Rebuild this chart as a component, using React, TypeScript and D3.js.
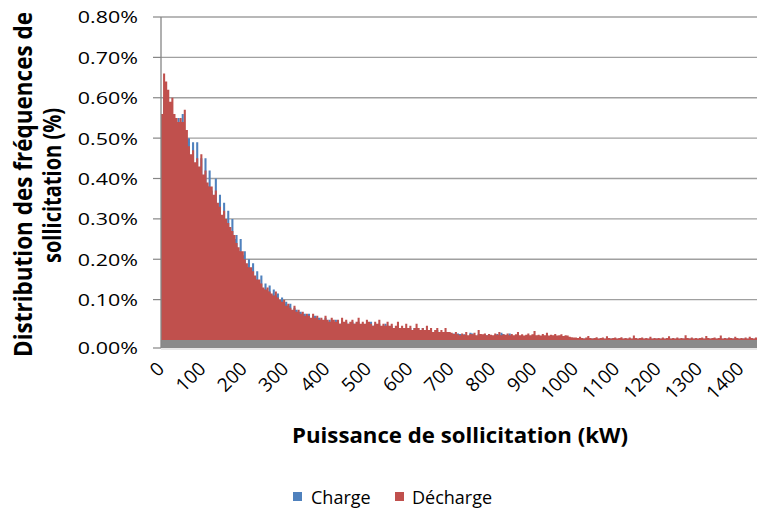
import React from 'react';
import * as d3 from 'd3';

// Bins of 5 kW, starting at 0 kW (values in %)
const BIN_KW = 5;

const decharge = [
  0.56, 0.66, 0.64, 0.62, 0.59, 0.60, 0.56, 0.55, 0.54, 0.55, 0.54, 0.57, 0.52, 0.48, 0.46, 0.47, 0.44, 0.45, 0.43, 0.46,
  0.41, 0.42, 0.39, 0.38, 0.38, 0.36, 0.37, 0.34, 0.33, 0.31, 0.32, 0.30, 0.29, 0.28, 0.27, 0.26, 0.24, 0.23, 0.22, 0.22,
  0.20, 0.19, 0.18, 0.18, 0.17, 0.16, 0.15, 0.15, 0.14, 0.13, 0.125, 0.13, 0.12, 0.115, 0.11, 0.12, 0.105, 0.10, 0.095, 0.10,
  0.085, 0.09, 0.08, 0.075, 0.085, 0.07, 0.075, 0.065, 0.07, 0.06, 0.065, 0.06, 0.055, 0.065, 0.055, 0.06, 0.05, 0.055, 0.05, 0.06,
  0.05, 0.045, 0.055, 0.05, 0.045, 0.05, 0.04, 0.055, 0.045, 0.05, 0.04, 0.045, 0.05, 0.04, 0.045, 0.055, 0.04, 0.045, 0.04, 0.05,
  0.045, 0.04, 0.035, 0.045, 0.04, 0.05, 0.035, 0.04, 0.035, 0.045, 0.035, 0.04, 0.03, 0.035, 0.045, 0.03, 0.035, 0.03, 0.04, 0.03,
  0.035, 0.025, 0.03, 0.04, 0.03, 0.025, 0.03, 0.025, 0.035, 0.025, 0.03, 0.02, 0.025, 0.03, 0.02, 0.025, 0.02, 0.03, 0.02, 0.02,
  0.018, 0.015, 0.02, 0.014, 0.012, 0.016, 0.013, 0.02, 0.012, 0.015, 0.014, 0.018, 0.012, 0.025, 0.015, 0.014, 0.016, 0.012, 0.015, 0.013,
  0.012, 0.016, 0.013, 0.02, 0.012, 0.014, 0.013, 0.016, 0.012, 0.015, 0.012, 0.014, 0.02, 0.012, 0.014, 0.011, 0.013, 0.016, 0.012, 0.014,
  0.022, 0.012, 0.013, 0.011, 0.015, 0.012, 0.018, 0.011, 0.013, 0.012, 0.015, 0.011, 0.012, 0.014, 0.01, 0.012, 0.011, 0.008, 0.007, 0.006,
  0.006, 0.005, 0.008, 0.005, 0.004, 0.006, 0.01, 0.005, 0.004, 0.005, 0.007, 0.004, 0.005, 0.006, 0.004, 0.009, 0.005, 0.004, 0.005, 0.006,
  0.004, 0.005, 0.007, 0.004, 0.005, 0.004, 0.006, 0.004, 0.011, 0.005, 0.004, 0.005, 0.006, 0.004, 0.005, 0.004, 0.008, 0.004, 0.005, 0.004,
  0.005, 0.004, 0.006, 0.004, 0.005, 0.009, 0.004, 0.005, 0.004, 0.006, 0.004, 0.005, 0.004, 0.012, 0.005, 0.004, 0.006, 0.004, 0.005, 0.004,
  0.005, 0.006, 0.004, 0.01, 0.005, 0.004, 0.005, 0.006, 0.004, 0.005, 0.011, 0.004, 0.005, 0.004, 0.006, 0.005, 0.004, 0.008, 0.005, 0.004,
  0.005, 0.004, 0.006, 0.004, 0.008, 0.005, 0.004, 0.006,
];

const charge = [
  0.50, 0.60, 0.61, 0.58, 0.57, 0.56, 0.55, 0.53, 0.55, 0.53, 0.56, 0.52, 0.50, 0.50, 0.45, 0.49, 0.43, 0.49, 0.41, 0.45,
  0.40, 0.45, 0.38, 0.42, 0.37, 0.35, 0.40, 0.33, 0.36, 0.30, 0.34, 0.29, 0.32, 0.27, 0.30, 0.25, 0.26, 0.22, 0.25, 0.21,
  0.22, 0.18, 0.20, 0.17, 0.19, 0.15, 0.17, 0.14, 0.16, 0.125, 0.14, 0.12, 0.135, 0.11, 0.125, 0.11, 0.115, 0.095, 0.105, 0.09,
  0.095, 0.085, 0.09, 0.07, 0.08, 0.075, 0.07, 0.07, 0.065, 0.065, 0.06, 0.065, 0.05, 0.06, 0.06, 0.055, 0.055, 0.05, 0.045, 0.055,
  0.045, 0.05, 0.045, 0.04, 0.05, 0.045, 0.04, 0.045, 0.04, 0.045, 0.04, 0.035, 0.045, 0.04, 0.04, 0.045, 0.035, 0.04, 0.035, 0.04,
  0.04, 0.045, 0.035, 0.04, 0.035, 0.04, 0.03, 0.035, 0.04, 0.035, 0.03, 0.035, 0.03, 0.03, 0.035, 0.03, 0.03, 0.025, 0.03, 0.03,
  0.03, 0.025, 0.03, 0.03, 0.025, 0.025, 0.03, 0.025, 0.025, 0.02, 0.025, 0.02, 0.02, 0.025, 0.02, 0.02, 0.02, 0.02, 0.015, 0.015,
  0.015, 0.016, 0.014, 0.016, 0.015, 0.012, 0.014, 0.012, 0.01, 0.018, 0.016, 0.012, 0.01, 0.015, 0.012, 0.01, 0.014, 0.012, 0.01, 0.008,
  0.01, 0.012, 0.015, 0.012, 0.018, 0.015, 0.01, 0.012, 0.016, 0.01, 0.008, 0.01, 0.008, 0.009, 0.01, 0.008, 0.007, 0.008, 0.006, 0.007,
  0.008, 0.006, 0.007, 0.008, 0.006, 0.007, 0.006, 0.008, 0.006, 0.007, 0.006, 0.005, 0.006, 0.005, 0.006, 0.005, 0.005, 0.004, 0.005, 0.004,
  0.004, 0.003, 0.004, 0.003, 0.004, 0.003, 0.005, 0.003, 0.004, 0.003, 0.004, 0.003, 0.004, 0.003, 0.003, 0.004, 0.003, 0.004, 0.003, 0.004,
  0.003, 0.004, 0.003, 0.003, 0.004, 0.003, 0.004, 0.003, 0.004, 0.003, 0.003, 0.004, 0.003, 0.003, 0.004, 0.003, 0.004, 0.003, 0.003, 0.004,
  0.003, 0.003, 0.004, 0.003, 0.004, 0.003, 0.003, 0.004, 0.003, 0.004, 0.003, 0.003, 0.004, 0.003, 0.003, 0.004, 0.003, 0.003, 0.004, 0.003,
  0.003, 0.004, 0.003, 0.003, 0.004, 0.003, 0.003, 0.004, 0.003, 0.003, 0.004, 0.003, 0.003, 0.004, 0.003, 0.003, 0.004, 0.003, 0.003, 0.003,
  0.003, 0.004, 0.003, 0.003, 0.004, 0.003, 0.003, 0.004,
];

const yTicks = [0, 0.1, 0.2, 0.3, 0.4, 0.5, 0.6, 0.7, 0.8];
const xTicks = [0, 100, 200, 300, 400, 500, 600, 700, 800, 900, 1000, 1100, 1200, 1300, 1400];

const seriesNames = ['Charge', 'Décharge'];
const seriesColors = ['#4F81BD', '#C0504D'];

const FONT = '"Open Sans", "DejaVu Sans", sans-serif';

export default function App() {
  const W = 757;
  const H = 513;
  const left = 161;
  const right = 757;
  const top = 17;
  const bottom = 340;
  const maxKw = 1440;

  const x = d3.scaleLinear().domain([0, maxKw]).range([left, right]);
  const y = d3.scaleLinear().domain([0, 0.8]).range([bottom, top]);
  const fmt = d3.format('.2f');

  const area = d3
    .area<number>()
    .x((_, i) => x(i * BIN_KW))
    .y0(y(0))
    .y1((d) => y(d))
    .curve(d3.curveStepAfter);

  const pathFor = (data: number[]) => area(data.concat([data[data.length - 1]])) || '';

  const tickY = (t: number) => (t === 0 ? bottom + 8 : y(t));

  return (
    <svg
      width={W}
      height={H}
      style={{ position: 'absolute', left: 0, top: 0, background: '#fff' }}
      fontFamily={FONT}
    >
      {/* gridlines */}
      {yTicks.filter((t) => t > 0).map((t) => (
        <line key={`g${t}`} x1={left} x2={right} y1={y(t)} y2={y(t)} stroke="#a0a0a0" strokeWidth={1.4} />
      ))}

      {/* series (Charge behind, Décharge in front) */}
      <path d={pathFor(charge)} fill={seriesColors[0]} />
      <path d={pathFor(decharge)} fill={seriesColors[1]} />

      {/* base band (horizontal axis) */}
      <rect x={left} y={bottom} width={right - left} height={8} fill="#8a8a8a" />
      <line x1={left} x2={right} y1={bottom + 9} y2={bottom + 9} stroke="#d0d0d0" strokeWidth={1} />

      {/* y axis */}
      <line x1={left} x2={left} y1={top} y2={bottom + 8} stroke="#868686" strokeWidth={1.3} />
      {yTicks.map((t) => (
        <g key={`yt${t}`}>
          <line x1={left - 8} x2={left} y1={tickY(t)} y2={tickY(t)} stroke="#868686" strokeWidth={1.2} />
          <text
            transform={`translate(138,${tickY(t) + 6.4}) scale(1.3,1)`}
            textAnchor="end"
            fontSize={16.5}
            fill="#000"
          >
            {fmt(t)}%
          </text>
        </g>
      ))}

      {/* x tick labels */}
      {xTicks.map((t) => (
        <text
          key={`xt${t}`}
          transform={`translate(${x(t) + 4.5},${370}) rotate(-45)`}
          textAnchor="end"
          fontSize={19}
          fill="#000"
        >
          {t}
        </text>
      ))}

      {/* axis titles */}
      <text
        transform={`translate(32,184.5) rotate(-90) scale(1,1.12)`}
        textAnchor="middle"
        fontSize={21.5}
        fontWeight="bold"
        fill="#000"
        textLength={345}
        lengthAdjust="spacingAndGlyphs"
      >
        Distribution des fréquences de
      </text>
      <text
        transform={`translate(61,185.5) rotate(-90) scale(1,1.12)`}
        textAnchor="middle"
        fontSize={21.5}
        fontWeight="bold"
        fill="#000"
        textLength={155}
        lengthAdjust="spacingAndGlyphs"
      >
        sollicitation (%)
      </text>
      <text
        x={460}
        y={443}
        textAnchor="middle"
        fontSize={22}
        fontWeight="bold"
        fill="#000"
        textLength={336}
        lengthAdjust="spacingAndGlyphs"
      >
        Puissance de sollicitation (kW)
      </text>

      {/* legend */}
      <rect x={293} y={492} width={9} height={9} fill={seriesColors[0]} />
      <text x={311} y={504} fontSize={18} fill="#000">{seriesNames[0]}</text>
      <rect x={395} y={492} width={9} height={9} fill={seriesColors[1]} />
      <text x={412} y={504} fontSize={18} fill="#000">{seriesNames[1]}</text>
    </svg>
  );
}
